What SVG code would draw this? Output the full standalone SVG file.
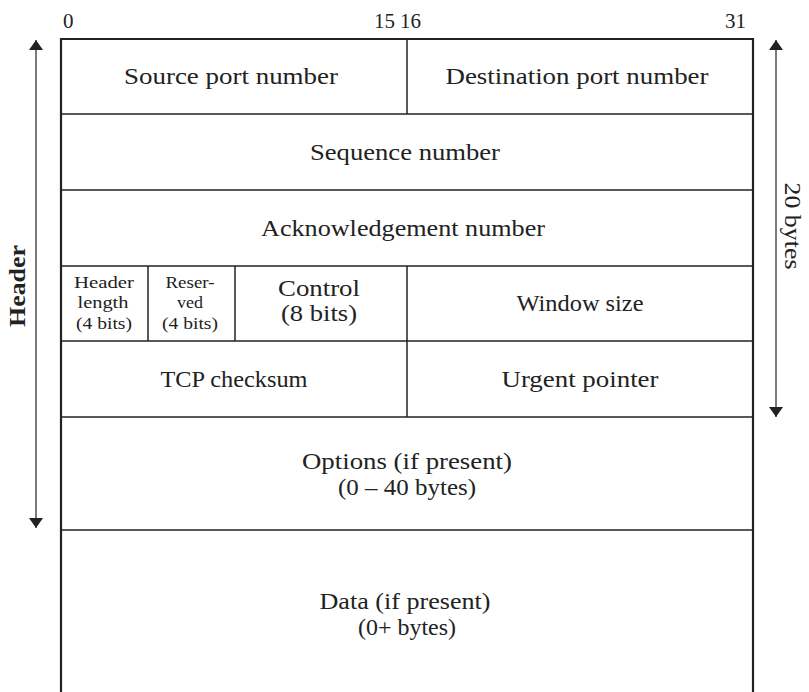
<svg xmlns="http://www.w3.org/2000/svg" width="809" height="692" viewBox="0 0 809 692">
<style>
.t{font-family:"Liberation Serif","DejaVu Serif",serif;font-size:22.5px;fill:#222;text-anchor:middle}
.s{font-family:"Liberation Serif","DejaVu Serif",serif;font-size:16.5px;fill:#222;text-anchor:middle}
.n{font-family:"Liberation Serif","DejaVu Serif",serif;font-size:21px;fill:#222}
.b{stroke:#222;stroke-width:2.2;fill:none}
.l{stroke:#222;stroke-width:1.5;fill:none}
.a{stroke:#222;stroke-width:1.2;fill:none}
</style>
<defs>
<marker id="ah" viewBox="0 0 10 14" refX="10" refY="7" markerWidth="10" markerHeight="14" markerUnits="userSpaceOnUse" orient="auto">
<path d="M0,0 L10,7 L0,14 Z" fill="#222"/>
</marker>
</defs>
<rect width="809" height="692" fill="#fff"/>
<g id="bits">
<text class="n" x="63" y="28">0</text>
<text class="n" x="374" y="28">15</text>
<text class="n" x="400" y="28">16</text>
<text class="n" x="725" y="28">31</text>
</g>
<g id="frame">
<path class="b" d="M61,692 V39 H753 V692"/>
</g>
<g id="row1">
<line class="l" x1="61" y1="114" x2="753" y2="114"/>
<line class="l" x1="407" y1="39" x2="407" y2="114"/>
<text id="src" class="t" x="231" y="84" textLength="214" lengthAdjust="spacingAndGlyphs">Source port number</text>
<text id="dst" class="t" x="577" y="84" textLength="263" lengthAdjust="spacingAndGlyphs">Destination port number</text>
</g>
<g id="seq">
<line class="l" x1="61" y1="190" x2="753" y2="190"/>
<text class="t" x="405" y="160" textLength="190" lengthAdjust="spacingAndGlyphs">Sequence number</text>
</g>
<g id="ack">
<line class="l" x1="61" y1="266" x2="753" y2="266"/>
<text class="t" x="403" y="236" textLength="284" lengthAdjust="spacingAndGlyphs">Acknowledgement number</text>
</g>
<g id="row4">
<line class="l" x1="61" y1="341" x2="753" y2="341"/>
<line class="l" x1="148" y1="266" x2="148" y2="341"/>
<line class="l" x1="235" y1="266" x2="235" y2="341"/>
<line class="l" x1="407" y1="266" x2="407" y2="341"/>
<text class="s" x="104" y="288" textLength="60" lengthAdjust="spacingAndGlyphs">Header</text>
<text class="s" x="103" y="308" textLength="51" lengthAdjust="spacingAndGlyphs">length</text>
<text class="s" x="104" y="329" textLength="56" lengthAdjust="spacingAndGlyphs">(4 bits)</text>
<text class="s" x="190" y="288" textLength="49" lengthAdjust="spacingAndGlyphs">Reser-</text>
<text class="s" x="190" y="308" textLength="26" lengthAdjust="spacingAndGlyphs">ved</text>
<text class="s" x="190" y="329" textLength="56" lengthAdjust="spacingAndGlyphs">(4 bits)</text>
<text class="t" x="319" y="296" textLength="82" lengthAdjust="spacingAndGlyphs">Control</text>
<text class="t" x="319" y="321" textLength="76" lengthAdjust="spacingAndGlyphs">(8 bits)</text>
<text class="t" x="580" y="311" textLength="127" lengthAdjust="spacingAndGlyphs">Window size</text>
</g>
<g id="row5">
<line class="l" x1="61" y1="417" x2="753" y2="417"/>
<line class="l" x1="407" y1="341" x2="407" y2="417"/>
<text class="t" x="234" y="387" textLength="147" lengthAdjust="spacingAndGlyphs">TCP checksum</text>
<text class="t" x="580" y="387" textLength="157" lengthAdjust="spacingAndGlyphs">Urgent pointer</text>
</g>
<g id="options">
<line class="l" x1="61" y1="530" x2="753" y2="530"/>
<text class="t" x="407" y="469" textLength="210" lengthAdjust="spacingAndGlyphs">Options (if present)</text>
<text class="t" x="407" y="495" textLength="138" lengthAdjust="spacingAndGlyphs">(0 – 40 bytes)</text>
</g>
<g id="data">
<text class="t" x="405" y="609" textLength="171" lengthAdjust="spacingAndGlyphs">Data (if present)</text>
<text class="t" x="407" y="635" textLength="98" lengthAdjust="spacingAndGlyphs">(0+ bytes)</text>
</g>
<g id="connectors">
<line class="a" x1="36" y1="285" x2="36" y2="40" marker-end="url(#ah)"/>
<line class="a" x1="36" y1="285" x2="36" y2="528" marker-end="url(#ah)"/>
<line class="a" x1="776" y1="228" x2="776" y2="40" marker-end="url(#ah)"/>
<line class="a" x1="776" y1="228" x2="776" y2="417" marker-end="url(#ah)"/>
</g>
<g id="labels">
<text class="t" style="font-weight:bold" transform="translate(25,286) rotate(-90)" textLength="82" lengthAdjust="spacingAndGlyphs">Header</text>
<text class="t" transform="translate(785,226) rotate(90)" textLength="87" lengthAdjust="spacingAndGlyphs">20 bytes</text>
</g>
</svg>
